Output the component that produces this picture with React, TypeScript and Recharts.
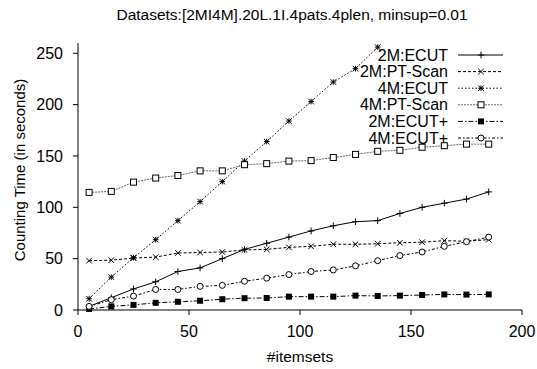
import { LineChart, Line, XAxis, YAxis, Legend } from 'recharts';

const itemsets = [5, 15, 25, 35, 45, 55, 65, 75, 85, 95, 105, 115, 125, 135, 145, 155, 165, 175, 185];

const ecut2M = [3.5, 12, 20.5, 27.5, 37.5, 41, 50, 59, 65, 71, 77, 82, 86, 87, 94, 100, 104, 108, 115];
const ptScan2M = [48, 48.5, 50.5, 51.5, 55.5, 56, 56.5, 58.5, 59, 61, 62, 64, 64, 64.5, 65.5, 66, 67.5, 67, 68.5];
const ecut4M = [11, 32, 51, 68.5, 87, 105.5, 125, 145, 164, 184, 203, 222, 235, 256, null, null, null, null, null];
const ptScan4M = [114.5, 115.5, 124.5, 128.5, 131, 135.5, 135.5, 141.5, 142.5, 145, 145.5, 148.5, 151.5, 154.5, 155.5, 158.5, 160, 161.5, 161.5];
const ecutPlus2M = [1, 3.5, 5, 7, 8, 9, 10.5, 11.5, 11.7, 13, 13, 13, 14, 13.7, 14, 14.6, 15.2, 15, 15.2];
const ecutPlus4M = [3.5, 10, 13.5, 20, 20, 23, 24, 28, 31, 34.5, 37.5, 39, 43, 48, 53, 56.5, 62, 66.5, 71];

const xTicks = [0, 50, 100, 150, 200];
const yTicks = [0, 50, 100, 150, 200, 250];

const data = itemsets.map((x, i) => ({
  x,
  ecut2M: ecut2M[i],
  ptScan2M: ptScan2M[i],
  ecut4M: ecut4M[i],
  ptScan4M: ptScan4M[i],
  ecutPlus2M: ecutPlus2M[i],
  ecutPlus4M: ecutPlus4M[i],
}));

const FONT = '"Liberation Sans", Arial, Helvetica, sans-serif';

type Shape = 'plus' | 'cross' | 'star' | 'square' | 'fsquare' | 'circle';

const marker = (shape: Shape, cx: number, cy: number, key?: string) => {
  const s = 2.8;
  switch (shape) {
    case 'plus':
      return (
        <g key={key} stroke="#000" strokeWidth={1}>
          <line x1={cx - s - 0.5} y1={cy} x2={cx + s + 0.5} y2={cy} />
          <line x1={cx} y1={cy - s - 0.5} x2={cx} y2={cy + s + 0.5} />
        </g>
      );
    case 'cross':
      return (
        <g key={key} stroke="#000" strokeWidth={1}>
          <line x1={cx - s} y1={cy - s} x2={cx + s} y2={cy + s} />
          <line x1={cx - s} y1={cy + s} x2={cx + s} y2={cy - s} />
        </g>
      );
    case 'star':
      return (
        <g key={key} stroke="#000" strokeWidth={1}>
          <line x1={cx - s} y1={cy - s} x2={cx + s} y2={cy + s} />
          <line x1={cx - s} y1={cy + s} x2={cx + s} y2={cy - s} />
          <line x1={cx - s} y1={cy} x2={cx + s} y2={cy} />
          <line x1={cx} y1={cy - s} x2={cx} y2={cy + s} />
        </g>
      );
    case 'square':
      return <rect key={key} x={cx - 3} y={cy - 3} width={6} height={6} fill="#fff" stroke="#000" strokeWidth={1} />;
    case 'fsquare':
      return <rect key={key} x={cx - 3} y={cy - 3} width={6} height={6} fill="#000" />;
    default:
      return <circle key={key} cx={cx} cy={cy} r={3} fill="#fff" stroke="#000" strokeWidth={1} />;
  }
};

const dotOf = (shape: Shape) => (props: any) => {
  const { cx, cy, index, value } = props;
  if (value == null || cx == null || cy == null) return <g key={`e${index}`} />;
  return marker(shape, cx, cy, `d${index}`);
};

const series = [
  { key: 'ecut2M', name: '2M:ECUT', shape: 'plus' as Shape, dash: undefined, color: '#000' },
  { key: 'ptScan2M', name: '2M:PT-Scan', shape: 'cross' as Shape, dash: '3 2', color: '#000' },
  { key: 'ecut4M', name: '4M:ECUT', shape: 'star' as Shape, dash: '1.5 2', color: '#000' },
  { key: 'ptScan4M', name: '4M:PT-Scan', shape: 'square' as Shape, dash: '2 1', color: '#666' },
  { key: 'ecutPlus2M', name: '2M:ECUT+', shape: 'fsquare' as Shape, dash: '5 2 1.5 2', color: '#000' },
  { key: 'ecutPlus4M', name: '4M:ECUT+', shape: 'circle' as Shape, dash: '3 2 1.5 2', color: '#000' },
];

const renderLegend = () => (
  <svg width={190} height={100} style={{ display: 'block', overflow: 'visible' }}>
    {series.map((s, i) => {
      const y = 10 + i * 16.6;
      return (
        <g key={s.key}>
          <text x={118} y={y} textAnchor="end" dominantBaseline="central" fontSize={16} fontFamily={FONT} fill="#000">
            {s.name}
          </text>
          <line x1={128} y1={y} x2={173} y2={y} stroke={s.color} strokeWidth={1} strokeDasharray={s.dash} />
          {marker(s.shape, 151, y)}
        </g>
      );
    })}
  </svg>
);

export default function App() {
  return (
    <div style={{ position: 'absolute', left: 0, top: 0, width: 537, height: 369, background: '#fff' }}>
      <LineChart
        width={537}
        height={369}
        data={data}
        margin={{ top: 43, right: 15, bottom: 0, left: 0 }}
        style={{ fontFamily: FONT }}
      >
        <XAxis
          dataKey="x"
          type="number"
          domain={[0, 200]}
          ticks={xTicks}
          height={59}
          tickSize={5}
          tickMargin={11}
          stroke="#000"
          tick={{ fontSize: 16, fill: '#000', fontFamily: FONT }}
        />
        <XAxis
          xAxisId="top"
          orientation="top"
          type="number"
          domain={[0, 200]}
          ticks={xTicks}
          height={0}
          tickSize={5}
          stroke="#777"
          tickFormatter={() => ''}
        />
        <YAxis
          type="number"
          domain={[0, 260]}
          ticks={yTicks}
          width={78}
          tickSize={5}
          tickMargin={10}
          stroke="#000"
          tick={{ fontSize: 16, fill: '#000', fontFamily: FONT }}
        />
        <YAxis
          yAxisId="right"
          orientation="right"
          type="number"
          domain={[0, 260]}
          ticks={yTicks}
          width={0}
          tickSize={5}
          stroke="#000"
          tickFormatter={() => ''}
        />
        {series.map((s) => (
          <Line
            key={s.key}
            dataKey={s.key}
            name={s.name}
            type="linear"
            stroke={s.color}
            strokeWidth={1}
            strokeDasharray={s.dash}
            dot={dotOf(s.shape)}
            activeDot={false}
            connectNulls={false}
            isAnimationActive={false}
          />
        ))}
        <Legend
          layout="horizontal"
          verticalAlign="middle"
          align="center"
          content={renderLegend}
          wrapperStyle={{ position: 'absolute', left: 330, top: 45, width: 190, height: 100 }}
        />
        <text x={292} y={14} textAnchor="middle" dominantBaseline="central" fontSize={15.5} fontFamily={FONT} fill="#000">
          Datasets:[2MI4M].20L.1I.4pats.4plen, minsup=0.01
        </text>
        <text
          x={19}
          y={170}
          textAnchor="middle"
          dominantBaseline="central"
          fontSize={15}
          fontFamily={FONT}
          fill="#000"
          transform="rotate(-90 19 170)"
        >
          Counting Time (in seconds)
        </text>
        <text x={300} y={356} textAnchor="middle" dominantBaseline="central" fontSize={15.5} fontFamily={FONT} fill="#000">
          #itemsets
        </text>
      </LineChart>
    </div>
  );
}
